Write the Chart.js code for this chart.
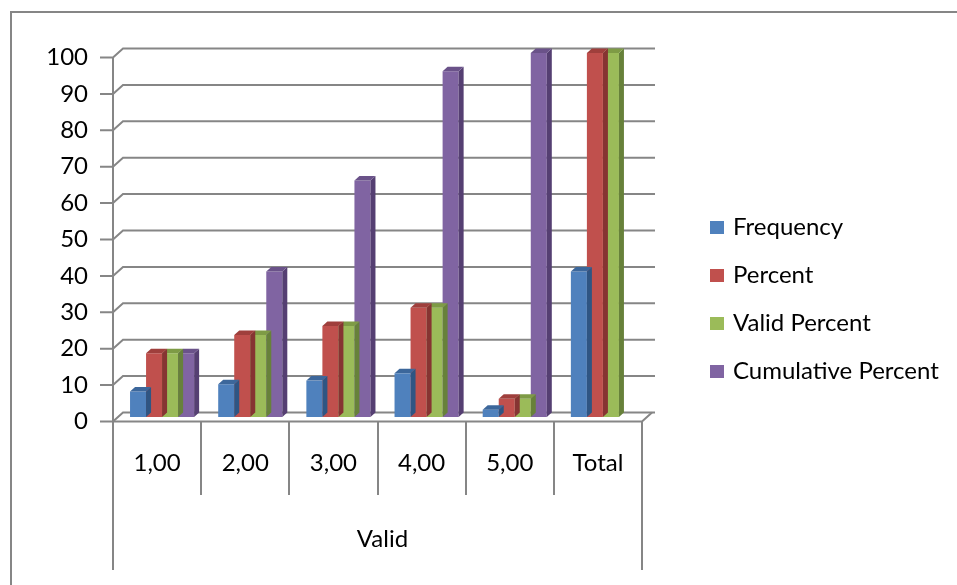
<!DOCTYPE html>
<html>
<head>
<meta charset="utf-8">
<script src="https://cdn.jsdelivr.net/npm/chart.js@4/dist/chart.umd.min.js"></script>
<style>
  html, body { margin: 0; padding: 0; background: #fff; }
  #wrap { position: relative; width: 957px; height: 585px; }
  #frame { position: absolute; left: 10px; top: 11px; width: 960px; height: 600px;
           border: 2px solid #868686; box-sizing: border-box; }
  canvas { position: absolute; left: 0; top: 0; }
</style>
</head>
<body>
<div id="wrap">
  <div id="frame"></div>
  <canvas id="chart" width="957" height="585"></canvas>
</div>
<script>
// data
const categories = ["1,00", "2,00", "3,00", "4,00", "5,00", "Total"];
const frequency = [7, 9, 10, 12, 2, 40];
const percent = [17.5, 22.5, 25, 30, 5, 100];
const validPercent = [17.5, 22.5, 25, 30, 5, 100];
const cumulativePercent = [17.5, 40, 65, 95, 100, null];
const yTicks = [0, 10, 20, 30, 40, 50, 60, 70, 80, 90, 100];
const names = ["Frequency", "Percent", "Valid Percent", "Cumulative Percent"];

const FONT = "Lato, 'Liberation Sans', sans-serif";
const AXIS = "#868686";

// front face, side face, top face
const palette = [
  ["#4F81BD", "#2F5583", "#3C679B"],
  ["#C0504D", "#863432", "#9F3F3C"],
  ["#9BBB59", "#67813A", "#7E9B45"],
  ["#8064A2", "#553F72", "#6A5289"]
];

// depth of the 3D box: bars sit half way between front and back wall
const DX = 5, DY = -4.5;

const box3d = {
  id: "box3d",
  beforeDatasetsDraw(chart) {
    const { ctx, chartArea: a, scales: { y } } = chart;
    ctx.save();
    ctx.strokeStyle = AXIS;
    ctx.lineWidth = 2;
    const fl = a.left - DX, fr = a.right - DX;
    // back wall gridlines + diagonals to the front ticks
    yTicks.forEach(v => {
      const yf = y.getPixelForValue(v) - DY;
      ctx.beginPath();
      ctx.moveTo(fl - 13, yf);
      ctx.lineTo(fl, yf);
      ctx.lineTo(fl + 2 * DX, yf + 2 * DY);
      ctx.lineTo(fr + 2 * DX + 3, yf + 2 * DY);
      ctx.stroke();
    });
    const y0 = y.getPixelForValue(0) - DY;
    const y100 = y.getPixelForValue(100) - DY;
    // front vertical axis
    ctx.beginPath();
    ctx.moveTo(fl, y100);
    ctx.lineTo(fl, y0);
    ctx.stroke();
    // front floor edge
    ctx.beginPath();
    ctx.moveTo(fl, y0);
    ctx.lineTo(fr, y0);
    ctx.lineTo(fr + 2 * DX, y0 + 2 * DY);
    ctx.stroke();
    // category dividers and the "Valid" group bracket
    const n = categories.length;
    const w = (fr - fl) / n;
    for (let i = 0; i <= n; i++) {
      const xx = Math.round(fl + i * w);
      ctx.beginPath();
      ctx.moveTo(xx, y0);
      ctx.lineTo(xx, (i === 0 || i === n) ? 570 : 495);
      ctx.stroke();
    }
    ctx.restore();
  },
  afterDatasetDraw(chart, args) {
    const { ctx } = chart;
    const cols = palette[args.index];
    const values = chart.data.datasets[args.index].data;
    ctx.save();
    args.meta.data.forEach((bar, i) => {
      if (values[i] == null) return;
      const { x, y, base, width } = bar.getProps(["x", "y", "base", "width"], true);
      const l = x - width / 2, r = x + width / 2;
      // side face
      ctx.fillStyle = cols[1];
      ctx.beginPath();
      ctx.moveTo(r, y);
      ctx.lineTo(r + DX, y + DY);
      ctx.lineTo(r + DX, base + DY);
      ctx.lineTo(r, base);
      ctx.closePath();
      ctx.fill();
      // top face
      ctx.fillStyle = cols[2];
      ctx.beginPath();
      ctx.moveTo(l, y);
      ctx.lineTo(l + DX, y + DY);
      ctx.lineTo(r + DX, y + DY);
      ctx.lineTo(r, y);
      ctx.closePath();
      ctx.fill();
    });
    ctx.restore();
  },
  afterDraw(chart) {
    // legend on the right
    const { ctx } = chart;
    ctx.save();
    ctx.font = "24px " + FONT;
    ctx.textBaseline = "middle";
    chart.data.datasets.forEach((ds, i) => {
      const cy = 227 + i * 48;
      ctx.fillStyle = ds.backgroundColor;
      ctx.fillRect(710, cy - 6, 14, 13);
      ctx.fillStyle = "#000";
      ctx.fillText(ds.label, 733, cy);
    });
    ctx.restore();
  }
};

const series = [frequency, percent, validPercent, cumulativePercent];

new Chart(document.getElementById("chart"), {
  type: "bar",
  data: {
    labels: categories,
    datasets: series.map((d, i) => ({
      label: names[i],
      data: d,
      backgroundColor: palette[i][0],
      borderWidth: 0,
      barPercentage: 1,
      categoryPercentage: 0.727
    }))
  },
  options: {
    responsive: false,
    animation: false,
    layout: { padding: { left: 0, top: 53, right: 310, bottom: 0 } },
    scales: {
      x: {
        grid: { display: false, drawTicks: false },
        border: { display: false },
        ticks: { color: "#000", font: { family: FONT, size: 24 }, padding: 32, labelOffset: -DX },
        title: { display: true, text: "Valid", color: "#000", font: { family: FONT, size: 24 },
                 padding: { top: 10, bottom: 31 } },
        afterFit(scale) { scale.height = 168; }
      },
      y: {
        min: 0, max: 100,
        grid: { display: false, drawTicks: false },
        border: { display: false },
        ticks: { stepSize: 10, color: "#000", font: { family: FONT, size: 24 }, padding: 30, labelOffset: -DY },
        afterFit(scale) { scale.width = 118; }
      }
    },
    plugins: {
      legend: { display: false },
      tooltip: { enabled: false }
    }
  },
  plugins: [box3d]
});
</script>
</body>
</html>
